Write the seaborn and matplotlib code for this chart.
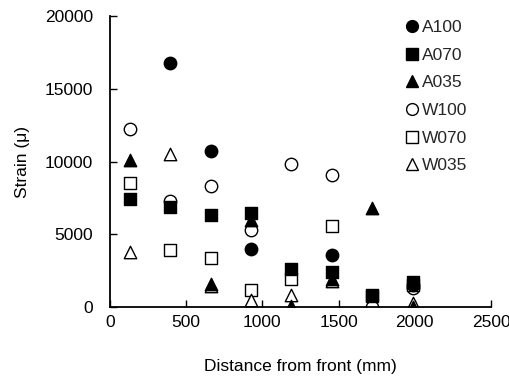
import numpy as np
import pandas as pd
import matplotlib
matplotlib.use("Agg")
import matplotlib.pyplot as plt
import seaborn as sns

distance = [130, 395, 660, 925, 1190, 1455, 1720, 1985]
A100 = [np.nan, 16800, 10700, 4000, np.nan, 3550, np.nan, 1500]
A070 = [7450, 6900, 6350, 6450, 2600, 2400, 800, 1700]
A035 = [10100, np.nan, 1600, 6000, 100, 1900, 6800, 0]
W100 = [12200, 7300, 8350, 5300, 9800, 9100, 0, 1300]
W070 = [8500, 3900, 3400, 1200, 1900, 5600, 750, 1500]
W035 = [3800, 10500, 1450, 500, 800, 1800, np.nan, 300]

series_names = ["A100", "A070", "A035", "W100", "W070", "W035"]
series_vals = [A100, A070, A035, W100, W070, W035]
xticks = [0, 500, 1000, 1500, 2000, 2500]
yticks = [0, 5000, 10000, 15000, 20000]

sns.set_theme(style="white")
plt.rcParams["font.family"] = ["Liberation Sans", "DejaVu Sans"]

fig = plt.figure(figsize=(5.10, 3.76), dpi=100)
ax = fig.add_axes([110/510, 1-307/376, (491-110)/510, (307-16)/376])

markers = {"A100": "o", "A070": "s", "A035": "^", "W100": "o", "W070": "s", "W035": "^"}
sizes = {"o": 80, "s": 64, "^": 80}
handles = {}
# open (W) series first, filled (A) series on top
order = ["W100", "W070", "W035", "A100", "A070", "A035"]
for name in order:
    vals = series_vals[series_names.index(name)]
    df = pd.DataFrame({"x": distance, "y": vals}).dropna()
    face = "black" if name.startswith("A") else "white"
    m = markers[name]
    sns.scatterplot(data=df, x="x", y="y", ax=ax, marker=m, s=sizes[m],
                    color=face, edgecolor="black", linewidth=1.0,
                    zorder=3 if name.startswith("A") else 2, legend=False)
    handles[name] = plt.Line2D([], [], linestyle="none", marker=m,
                               markersize=8.5 if m != "s" else 8,
                               markerfacecolor=face, markeredgecolor="black",
                               markeredgewidth=1.0)

FS = 12.5
ax.set_xlim(0, 2500)
ax.set_ylim(0, 20000)
ax.set_xticks(xticks)
ax.set_yticks(yticks)
ax.tick_params(direction="in", length=5, width=1, colors="black", labelsize=FS,
               bottom=True, left=True)
ax.tick_params(axis="y", pad=12)
ax.tick_params(axis="x", pad=6)
for s in ["top", "right"]:
    ax.spines[s].set_visible(False)
for s in ["left", "bottom"]:
    ax.spines[s].set_color("black")
    ax.spines[s].set_linewidth(1.3)
ax.set_xlabel("Distance from front (mm)", fontsize=FS, color="black", labelpad=21)
ax.set_ylabel("Strain (μ)", fontsize=FS, color="black", labelpad=11)

leg = ax.legend([handles[n] for n in series_names], series_names,
                loc="upper left", bbox_to_anchor=(0.76, 1.01), frameon=False,
                fontsize=FS, handlelength=0.6, handletextpad=0.3,
                labelspacing=0.72, borderaxespad=0)

fig.savefig("out.png", dpi=100)
